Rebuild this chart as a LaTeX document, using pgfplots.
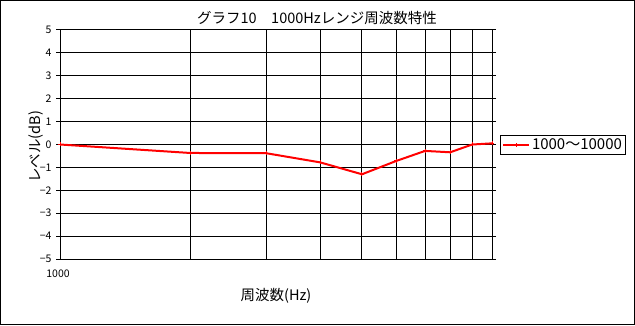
\documentclass[border=0pt]{standalone}
\usepackage{fontspec}
\setmainfont{Liberation Sans}
\newfontfamily\cjk{Noto Sans CJK JP}
\usepackage{pgfplots}
\pgfplotsset{compat=1.18}
\begin{document}
\begin{tikzpicture}[x=1pt,y=1pt]
\draw[line width=1pt] (0.5,0.5) rectangle (634.5,324.5);
\begin{axis}[
  at={(60pt,66pt)}, anchor=south west,
  scale only axis, width=432pt, height=229pt,
  xmode=log, xmin=1000, xmax=10000,
  ymin=-5, ymax=5,
  xtick={1000,2000,3000,4000,5000,6000,7000,8000,9000,10000},
  xticklabels={1000,,,,,,,,,},
  xtick style={draw=none},
  xticklabel style={font=\cjk\fontsize{10.5}{12}\selectfont, yshift=-3pt, xshift=-2pt},
  ytick={-5,-4,-3,-2,-1,0,1,2,3,4,5},
  yticklabels={−5,−4,−3,−2,−1,0,1,2,3,4,5},
  yticklabel style={font=\cjk\fontsize{10.5}{12}\selectfont, xshift=-1pt},
  ytick style={black, line width=1pt},
  tick align=outside, major tick length=4pt,
  ymajorgrids, xmajorgrids,
  grid style={black, line width=1pt},
  axis line style={black, line width=1pt},
  /pgf/number format/assume math mode=true,
  legend style={at={(1.0185,0.5415)}, anchor=north west, draw=black, line width=1pt,
    font=\cjk\fontsize{15}{16}\selectfont, inner sep=1.5pt},
  legend cell align=left,
  legend image code/.code={
    \draw[#1, mark=none] (0pt,0pt) -- (26pt,0pt);
    \draw[#1, only marks] plot coordinates {(13pt,0pt)};
  },
]
\addplot[red, line width=2pt, mark=+, mark size=2pt, mark options={line width=1pt}] coordinates {
  (1000,0) (2000,-0.37) (3000,-0.38) (4000,-0.78) (5000,-1.30)
  (6000,-0.72) (7000,-0.28) (8000,-0.34) (9000,0.0) (10000,0.05)
};
\addlegendentry{1000～10000}
\end{axis}
\node[font=\cjk\fontsize{14.5}{16}\selectfont] at (317,307) {グラフ10　1000Hzレンジ周波数特性};
\node[font=\cjk\fontsize{14.5}{16}\selectfont] at (276,29) {周波数(Hz)};
\node[font=\cjk\fontsize{14.5}{16}\selectfont, rotate=90] at (36,178) {レベル(dB)};
\end{tikzpicture}
\end{document}
